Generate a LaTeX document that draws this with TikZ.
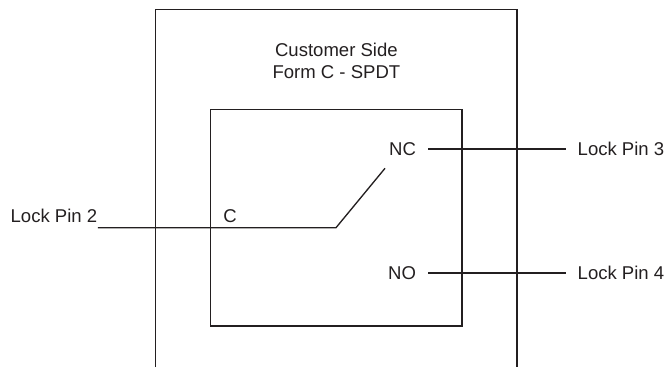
\documentclass[tikz,border=0pt]{standalone}
\usepackage{fontspec}
\setmainfont{Liberation Sans}
\usepackage{xcolor}
\usepackage{tikz}
\usetikzlibrary{positioning}

\definecolor{wire}{HTML}{231F20}

\begin{document}
\begin{tikzpicture}[x=0.75pt, y=-0.75pt, line width=1pt, draw=wire,
    txt/.style={text=wire, font=\fontsize{13.9}{16.5}\selectfont},
    pinlabel/.style={txt, inner xsep=8.5pt, inner ysep=1pt}]
    \useasboundingbox (0,0) rectangle (666,367);

    % Outer housing, open at the bottom
    \coordinate (housingL) at (155.7,367);
    \coordinate (housingR) at (517,367);
    \draw (housingL) |- (517,9.3) -- (housingR);

    \node[txt, align=center] (title) at (336.4,61) {Customer Side\\Form C - SPDT};

    % Relay contact box
    \node[draw, rectangle, inner sep=0pt, minimum width=188.6pt, minimum height=162.4pt] (relay) at (336.2,217.7) {};

    % Common contact
    \node[txt, anchor=base west, inner sep=0pt] (pinTwo) at (10,222) {Lock Pin 2};
    \node[txt, anchor=base, inner sep=0pt] (common) at (230,222) {C};
    \coordinate (pivot) at (336,227.7);
    \coordinate (blade) at (385,168.3);
    \draw (pivot -| pinTwo.east) -- (pivot) -- (blade);

    % Normally closed
    \node[pinlabel, anchor=east] (nc) at (428,149) {NC};
    \node[pinlabel, anchor=west] (pinThree) at (565.7,149) {Lock Pin 3};
    \draw (nc.east) -- (pinThree.west);

    % Normally open
    \node[pinlabel, anchor=east] (no) at (428,273) {NO};
    \node[pinlabel, anchor=west] (pinFour) at (565.7,273) {Lock Pin 4};
    \draw (no.east) -- (pinFour.west);
\end{tikzpicture}
\end{document}
